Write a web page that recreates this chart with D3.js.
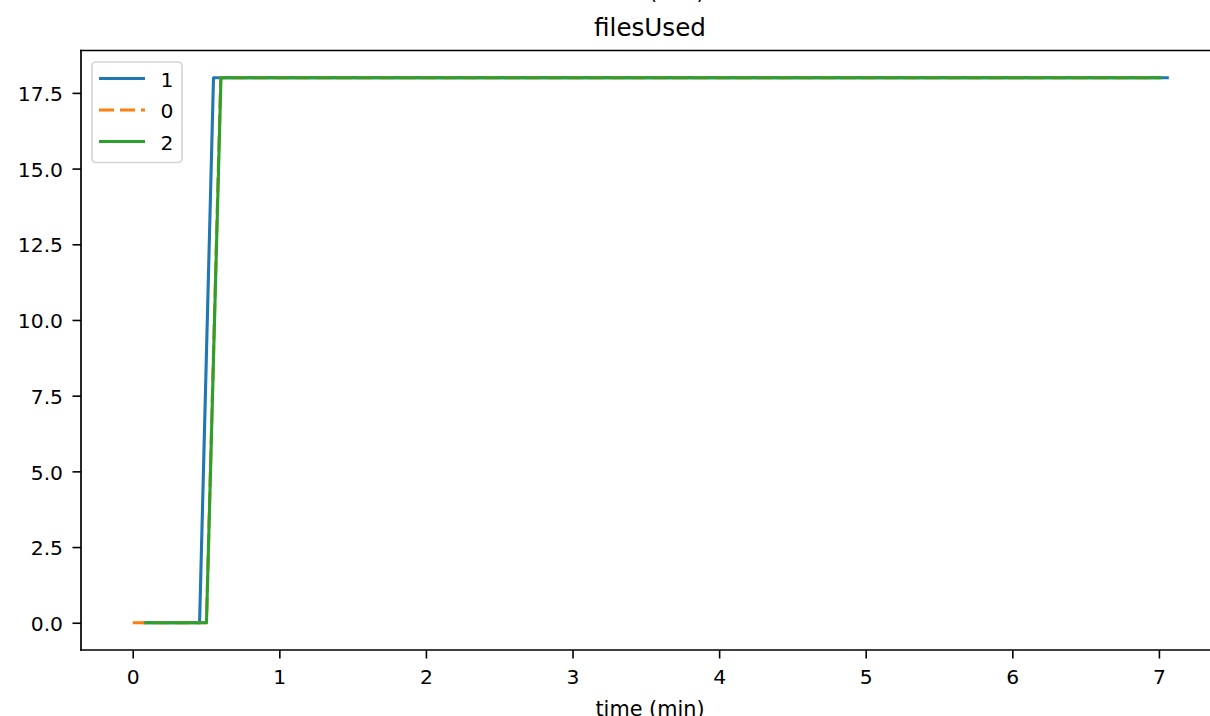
<!DOCTYPE html>
<html>
<head>
<meta charset="utf-8">
<script src="https://cdn.jsdelivr.net/npm/d3@7"></script>
<style>
  html, body { margin: 0; padding: 0; background: #fff; }
  svg { display: block; font-family: "DejaVu Sans", sans-serif; }
</style>
</head>
<body>
<svg id="chart" width="1210" height="716"></svg>
<script>
// ---- data ----
const title = "filesUsed";
const xLabel = "time (min)";
const xTicks = [0, 1, 2, 3, 4, 5, 6, 7];
const yTicks = [0, 2.5, 5, 7.5, 10, 12.5, 15, 17.5];
const seriesNames = ["1", "0", "2"];
const s1Time = [0.08, 0.456, 0.551, 7.057];
const s1Vals = [0, 0, 18, 18];
const s0Time = [0, 0.503, 0.600, 7.0];
const s0Vals = [0, 0, 18, 18];
const s2Time = [0.089, 0.503, 0.602, 7.007];
const s2Vals = [0, 0, 18, 18];
const colors = ["#1f77b4", "#ff7f0e", "#2ca02c"];

// ---- layout ----
const svg = d3.select("#chart");
const pL = 81, pR = 1219, pT = 50.5, pB = 650;

// matplotlib-like 5% margins
const allT = s1Time.concat(s0Time, s2Time);
const allV = s1Vals.concat(s0Vals, s2Vals);
const tMin = d3.min(allT), tMax = d3.max(allT);
const vMin = d3.min(allV), vMax = d3.max(allV);
const tPad = (tMax - tMin) * 0.05, vPad = (vMax - vMin) * 0.05;

const x = d3.scaleLinear().domain([tMin - tPad, tMax + tPad]).range([pL, pR]);
const y = d3.scaleLinear().domain([vMin - vPad, vMax + vPad]).range([pB, pT]);

const series = [
  { name: seriesNames[0], t: s1Time, v: s1Vals, color: colors[0], dash: null },
  { name: seriesNames[1], t: s0Time, v: s0Vals, color: colors[1], dash: "15,6" },
  { name: seriesNames[2], t: s2Time, v: s2Vals, color: colors[2], dash: null }
];

// fragment of previous subplot's x label (cut off at top)
svg.append("text")
  .attr("x", (pL + pR) / 2).attr("y", -1.3)
  .attr("text-anchor", "middle").attr("font-size", 20.8).attr("fill", "#000")
  .text(xLabel);

// clip
svg.append("defs").append("clipPath").attr("id", "clip")
  .append("rect").attr("x", pL).attr("y", pT).attr("width", pR - pL).attr("height", pB - pT);

const line = d3.line().x(d => x(d[0])).y(d => y(d[1]));
const plot = svg.append("g").attr("clip-path", "url(#clip)");
series.forEach(s => {
  const pts = s.t.map((t, i) => [t, s.v[i]]);
  plot.append("path").datum(pts)
    .attr("d", line)
    .attr("fill", "none")
    .attr("stroke", s.color)
    .attr("stroke-width", 3.1)
    .attr("stroke-linejoin", "round")
    .attr("stroke-linecap", s.dash ? "butt" : "square")
    .attr("stroke-dasharray", s.dash);
});

// axes
const xAxis = d3.axisBottom(x).tickValues(xTicks).tickFormat(d3.format("d")).tickSize(8.5).tickSizeOuter(0);
const yAxis = d3.axisLeft(y).tickValues(yTicks).tickFormat(d3.format(".1f")).tickSize(8.5).tickPadding(9.5).tickSizeOuter(0);

const gx = svg.append("g").attr("transform", `translate(0,${pB})`).call(xAxis);
const gy = svg.append("g").attr("transform", `translate(${pL},0)`).call(yAxis);
[gx, gy].forEach(g => {
  g.select(".domain").remove();
  g.selectAll(".tick line").attr("stroke", "#000").attr("stroke-width", 1.6);
  g.selectAll(".tick text").attr("fill", "#000").attr("font-size", 20.3)
    .attr("font-family", "DejaVu Sans, sans-serif");
});
gx.selectAll(".tick text").attr("dy", null).attr("y", 34.2);
gy.selectAll(".tick text").attr("dy", "0.38em");

// spines
const spines = svg.append("g").attr("stroke", "#000").attr("stroke-width", 1.7).attr("stroke-linecap", "square");
spines.append("line").attr("x1", pL).attr("x2", pL).attr("y1", pT).attr("y2", pB);
spines.append("line").attr("x1", pL).attr("x2", pR).attr("y1", pB).attr("y2", pB);
spines.append("line").attr("x1", pL).attr("x2", pR).attr("y1", pT).attr("y2", pT);
spines.append("line").attr("x1", pR).attr("x2", pR).attr("y1", pT).attr("y2", pB);

// title
svg.append("text")
  .attr("x", (pL + pR) / 2).attr("y", 36)
  .attr("text-anchor", "middle").attr("font-size", 24.6).attr("fill", "#000")
  .text(title);

// x label
svg.append("text")
  .attr("x", (pL + pR) / 2).attr("y", 715.5)
  .attr("text-anchor", "middle").attr("font-size", 20.8).attr("fill", "#000")
  .text(xLabel);

// legend
const lg = svg.append("g");
lg.append("rect")
  .attr("x", 92).attr("y", 62).attr("width", 90).attr("height", 100.5)
  .attr("rx", 4).attr("ry", 4)
  .attr("fill", "rgba(255,255,255,0.8)")
  .attr("stroke", "#d5d5d5").attr("stroke-width", 1.7);
const rowY = [78.5, 110, 141.5];
series.forEach((s, i) => {
  lg.append("line")
    .attr("x1", 99).attr("x2", 145).attr("y1", rowY[i]).attr("y2", rowY[i])
    .attr("stroke", s.color).attr("stroke-width", 3.1)
    .attr("stroke-dasharray", s.dash);
  lg.append("text")
    .attr("x", 160.5).attr("y", rowY[i] + 8.3)
    .attr("font-size", 20.3).attr("fill", "#000")
    .text(s.name);
});
</script>
</body>
</html>
